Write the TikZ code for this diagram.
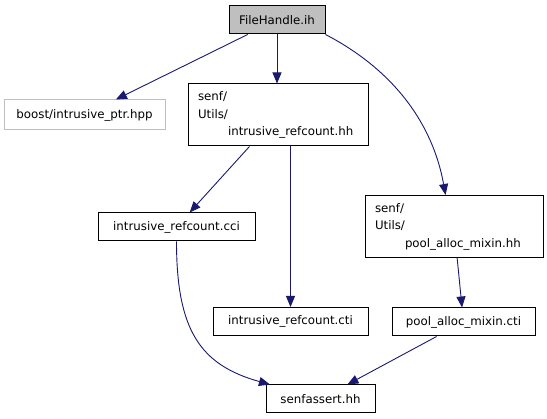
\documentclass[tikz,border=0pt]{standalone}
\usepackage{fontspec}
\setmainfont{DejaVu Sans}
\usetikzlibrary{arrows.meta}
\definecolor{edgeblue}{RGB}{25,25,112}
\definecolor{boxgray}{RGB}{191,191,191}
\newcommand{\senfpath}[1]{senf/\\Utils/\\\hspace*{30pt}#1}

\begin{document}
\begin{tikzpicture}[x=1pt,y=-1pt,
  file/.style={draw=black,line width=1pt,rectangle,inner sep=0pt,minimum height=28pt,
    font=\fontsize{11.8}{17.5}\selectfont},
  multi/.style={file,align=left,text width=#1,inner xsep=10pt,minimum height=62pt},
  edge/.style={draw=edgeblue,line width=0.9pt,-{Triangle[length=11pt,width=9pt]}}]
\useasboundingbox (0,0) rectangle (547,419);
% files
\node[file,fill=boxgray,minimum width=96pt] (fh) at (277,20) {FileHandle.ih};
\node[file,draw=boxgray,minimum width=161pt,minimum height=30pt] (boost) at (84.5,115) {boost/intrusive\_ptr.hpp};
\node[multi=160pt] (irchh) at (278,115) {\senfpath{intrusive\_refcount.hh}};
\node[file,minimum width=157pt] (irccci) at (176.5,227) {intrusive\_refcount.cci};
\node[file,minimum width=155pt] (irccti) at (290.5,321.5) {intrusive\_refcount.cti};
\node[multi=158pt] (pamhh) at (454,226.5) {\senfpath{pool\_alloc\_mixin.hh}};
\node[file,minimum width=143pt] (pamcti) at (463.5,322) {pool\_alloc\_mixin.cti};
\node[file,minimum width=109pt] (assert) at (320.5,399) {senfassert.hh};
% includes
\draw[edge] (fh) -- (boost);
\draw[edge] (fh) -- (fh |- irchh.north);
\draw[edge] (fh.south east) .. controls (390,68) and (432,120) .. (pamhh.105);
\draw[edge] (irchh) -- (irccci);
\draw[edge] (irchh.south -| irccti) -- (irccti);
\draw[edge] (pamhh) -- (pamcti);
\draw[edge] (irccci.south) .. controls (176.5,330) and (200,365) .. (assert.164);
\draw[edge] (pamcti) -- (assert);
\end{tikzpicture}
\end{document}
